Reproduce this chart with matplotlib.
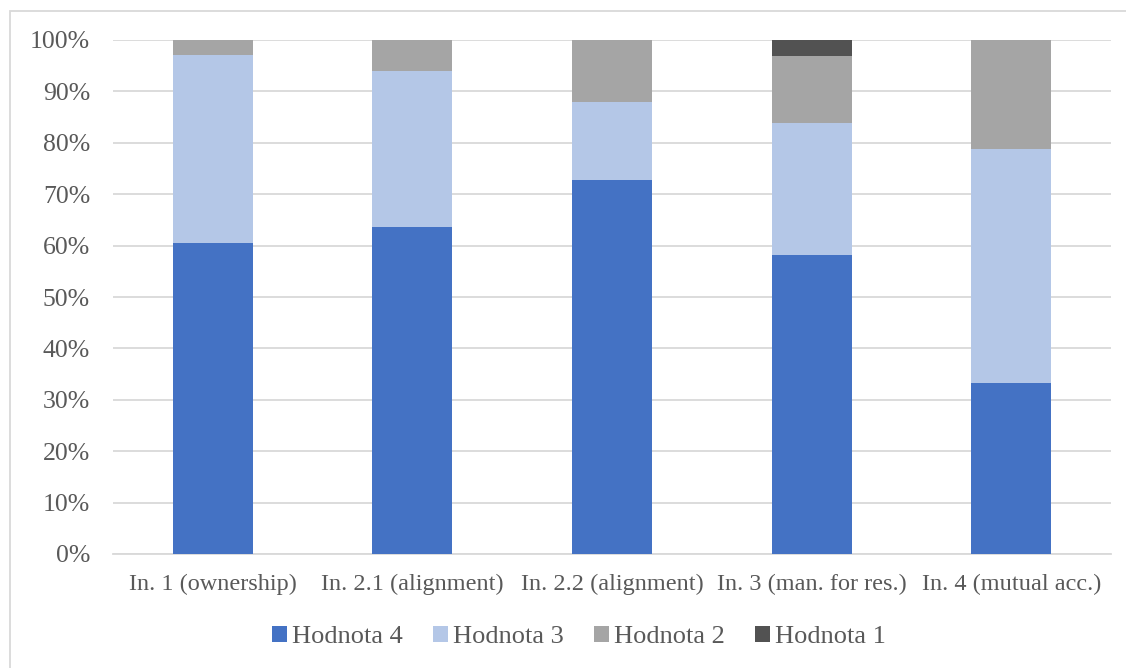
import matplotlib
matplotlib.use("Agg")
import matplotlib.pyplot as plt
from matplotlib.patches import Rectangle
from matplotlib.ticker import PercentFormatter
import numpy as np

categories = ["In. 1 (ownership)", "In. 2.1 (alignment)", "In. 2.2 (alignment)",
              "In. 3 (man. for res.)", "In. 4 (mutual acc.)"]
series_names = ["Hodnota 4", "Hodnota 3", "Hodnota 2", "Hodnota 1"]
hodnota4 = [60.6, 63.6, 72.7, 58.1, 33.3]
hodnota3 = [36.4, 30.3, 15.2, 25.8, 45.5]
hodnota2 = [3.0, 6.1, 12.1, 12.9, 21.2]
hodnota1 = [0.0, 0.0, 0.0, 3.2, 0.0]
colors = ["#4472C4", "#B4C7E7", "#A5A5A5", "#525252"]

plt.rcParams['font.family'] = ['Liberation Serif', 'DejaVu Serif']
text_color = "#595959"

fig = plt.figure(figsize=(11.26, 6.68), dpi=100)
ax = fig.add_axes([113/1126, 1 - 554/668, 998/1126, 514/668])

x = np.arange(len(categories))
bottom = np.zeros(len(categories))
for name, vals, c in zip(series_names, [hodnota4, hodnota3, hodnota2, hodnota1], colors):
    ax.bar(x, vals, width=0.4, bottom=bottom, color=c, label=name, zorder=3)
    bottom += np.array(vals)

ax.set_xlim(-0.5, len(categories) - 0.5)
ax.set_ylim(0, 100)
ax.set_yticks(np.arange(0, 101, 10))
ax.yaxis.set_major_formatter(PercentFormatter(decimals=0))
ax.grid(axis='y', color='#D9D9D9', linewidth=1.3, zorder=0)
for s in ['top', 'right', 'left']:
    ax.spines[s].set_visible(False)
ax.spines['bottom'].set_color('#D9D9D9')
ax.spines['bottom'].set_linewidth(1.3)
ax.tick_params(axis='both', length=0, colors=text_color)
ax.tick_params(axis='y', labelsize=18.5, pad=16.5)
ax.tick_params(axis='x', labelsize=17.5, pad=14)
ax.set_xticks(x)
ax.set_xticklabels(categories)

leg = fig.legend(loc='center', bbox_to_anchor=(579/1126, 1 - 637/668), ncol=4, frameon=False,
                 fontsize=19, handlelength=0.55, handleheight=0.55, handletextpad=0.2,
                 columnspacing=1.15)
for t in leg.get_texts():
    t.set_color(text_color)

fig.patches.append(Rectangle((10/1126, -0.1), 1.2, 1.1 - 11/668, transform=fig.transFigure,
                             fill=False, edgecolor='#D9D9D9', linewidth=1.3))

fig.savefig("out.png", dpi=100)
